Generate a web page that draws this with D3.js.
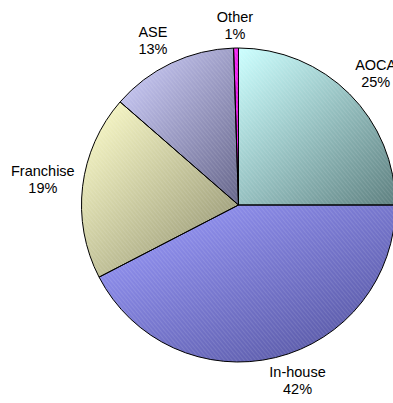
<!DOCTYPE html>
<html><head><meta charset="utf-8">
<script src="https://cdn.jsdelivr.net/npm/d3@7"></script>
<style>body{margin:0;background:#fff}svg{display:block}</style>
</head><body>
<script>
const categories = ["AOCA", "In-house", "Franchise", "ASE", "Other"];
const values = [25.0, 42.4, 19.0, 13.1, 0.5];
const lightColors = ["#CCFFFF", "#9C9CFF", "#FFFFCC", "#D2D2FF", "#FF33FF"];
const darkColors = ["#5E8080", "#50509A", "#8C8C6C", "#66668A", "#CC00CC"];

const W = 393, H = 403, cx = 238.5, cy = 205, R = 157;
const svg = d3.select("body").append("svg").attr("width", W).attr("height", H);
const defs = svg.append("defs");

const pat = defs.append("pattern").attr("id", "hatch").attr("patternUnits", "userSpaceOnUse")
  .attr("width", 3).attr("height", 3).attr("patternTransform", "rotate(-40)");
pat.append("line").attr("x1", 0).attr("y1", 0).attr("x2", 0).attr("y2", 3)
  .attr("stroke", "#fff").attr("stroke-opacity", 0.22).attr("stroke-width", 1);

categories.forEach((c, i) => {
  const g = defs.append("linearGradient").attr("id", "grad" + i)
    .attr("x1", 0).attr("y1", 0).attr("x2", 1).attr("y2", 1);
  g.append("stop").attr("offset", "0%").attr("stop-color", lightColors[i]);
  g.append("stop").attr("offset", "100%").attr("stop-color", darkColors[i]);
});

const data = categories.map((c, i) => ({name: c, value: values[i], i}));
const pie = d3.pie().value(d => d.value).sort(null);
const arcs = pie(data);
const arc = d3.arc().innerRadius(0).outerRadius(R);

const g = svg.append("g").attr("transform", `translate(${cx},${cy})`);
g.selectAll("path.fill").data(arcs).join("path").attr("class", "fill")
  .attr("d", arc).attr("fill", d => `url(#grad${d.data.i})`);
g.selectAll("path.hatch").data(arcs).join("path").attr("class", "hatch")
  .attr("d", arc).attr("fill", "url(#hatch)");
g.selectAll("path.edge").data(arcs).join("path").attr("class", "edge")
  .attr("d", arc).attr("fill", "none").attr("stroke", "#000").attr("stroke-width", 1);

const total = d3.sum(values);
const anchorR = 165, lh = 17;
const f = t => Math.max(-1, Math.min(1, 3 * t));
arcs.forEach(d => {
  const a = (d.startAngle + d.endAngle) / 2;
  const t = g.append("text").attr("font-family", "Liberation Sans, Arial, sans-serif")
    .attr("font-size", 14.5).attr("fill", "#000").attr("text-anchor", "middle");
  t.append("tspan").attr("x", 0).attr("y", 0).text(d.data.name);
  t.append("tspan").attr("x", 0).attr("y", lh).text(Math.round(d.data.value / total * 100) + "%");
  const bb = t.node().getBBox();
  const hw = bb.width / 2, hh = 15;
  const s = Math.sin(a), c = Math.cos(a);
  const px = anchorR * s + hw * f(s);
  const py = -anchorR * c + hh * f(-c);
  const bcx = bb.x + hw, bcy = bb.y + bb.height / 2;
  t.attr("transform", `translate(${px - bcx},${py - bcy})`);
});
</script>
</body></html>
